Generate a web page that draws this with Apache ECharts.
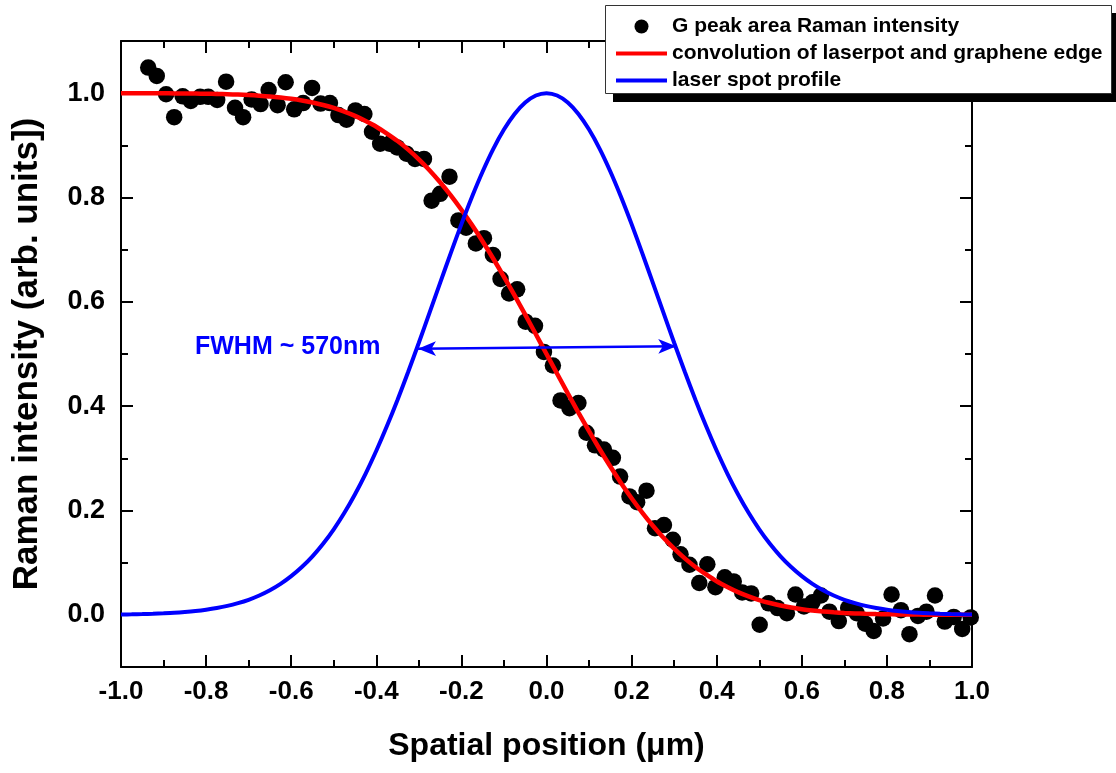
<!DOCTYPE html>
<html>
<head>
<meta charset="utf-8">
<script src="https://cdn.jsdelivr.net/npm/echarts@6/dist/echarts.min.js"></script>
<style>
html,body{margin:0;padding:0;background:#fff;}
#chart{width:1116px;height:773px;}
</style>
</head>
<body>
<div id="chart"></div>
<script>
// ---- data ----
var seriesNames = ['G peak area Raman intensity', 'convolution of laserpot and graphene edge', 'laser spot profile'];

var ramanPoints = [
  [-0.936,1.049],[-0.916,1.033],[-0.894,0.998],[-0.875,0.954],[-0.855,0.994],[-0.836,0.985],
  [-0.814,0.993],[-0.795,0.993],[-0.774,0.987],[-0.753,1.022],[-0.732,0.972],[-0.713,0.954],
  [-0.693,0.988],[-0.672,0.979],[-0.653,1.006],[-0.632,0.977],[-0.613,1.021],[-0.593,0.969],
  [-0.572,0.981],[-0.551,1.010],[-0.531,0.980],[-0.509,0.981],[-0.489,0.958],[-0.470,0.949],
  [-0.449,0.967],[-0.428,0.960],[-0.410,0.926],[-0.391,0.903],[-0.369,0.903],[-0.351,0.896],
  [-0.329,0.884],[-0.309,0.874],[-0.288,0.874],[-0.270,0.794],[-0.250,0.807],[-0.228,0.840],
  [-0.207,0.756],[-0.189,0.742],[-0.166,0.712],[-0.147,0.722],[-0.126,0.690],[-0.108,0.644],
  [-0.088,0.616],[-0.069,0.624],[-0.049,0.562],[-0.027,0.554],[-0.006,0.504],[0.015,0.478],
  [0.033,0.411],[0.054,0.396],[0.075,0.406],[0.094,0.349],[0.114,0.325],[0.135,0.317],
  [0.156,0.301],[0.173,0.265],[0.195,0.227],[0.213,0.216],[0.235,0.238],[0.255,0.166],
  [0.276,0.172],[0.297,0.144],[0.315,0.116],[0.336,0.096],[0.359,0.061],[0.378,0.097],
  [0.397,0.053],[0.419,0.072],[0.440,0.064],[0.460,0.043],[0.481,0.041],[0.501,-0.019],
  [0.522,0.022],[0.543,0.013],[0.565,0.003],[0.585,0.039],[0.605,0.016],[0.625,0.024],
  [0.645,0.037],[0.665,0.006],[0.687,-0.012],[0.709,0.013],[0.729,0.003],[0.749,-0.017],
  [0.769,-0.031],[0.791,-0.007],[0.811,0.039],[0.833,0.009],[0.853,-0.037],[0.873,-0.002],
  [0.893,0.006],[0.913,0.037],[0.936,-0.013],[0.957,-0.004],[0.977,-0.027],[0.997,-0.005]
];

var curveX = [
  -1.000,-0.975,-0.950,-0.925,-0.900,-0.875,-0.850,-0.825,-0.800,-0.775,
  -0.750,-0.725,-0.700,-0.675,-0.650,-0.625,-0.600,-0.575,-0.550,-0.525,
  -0.500,-0.475,-0.450,-0.425,-0.400,-0.375,-0.350,-0.325,-0.300,-0.275,
  -0.250,-0.225,-0.200,-0.175,-0.150,-0.125,-0.100,-0.075,-0.050,-0.025,
   0.000,
   0.025, 0.050, 0.075, 0.100, 0.125, 0.150, 0.175, 0.200, 0.225, 0.250,
   0.275, 0.300, 0.325, 0.350, 0.375, 0.400, 0.425, 0.450, 0.475, 0.500,
   0.525, 0.550, 0.575, 0.600, 0.625, 0.650, 0.675, 0.700, 0.725, 0.750,
   0.775, 0.800, 0.825, 0.850, 0.875, 0.900, 0.925, 0.950, 0.975, 1.000
];

var convolutionY = [
  1.0000,0.9999,0.9999,0.9998,0.9997,0.9996,0.9994,0.9992,0.9989,0.9985,
  0.9980,0.9973,0.9964,0.9952,0.9937,0.9917,0.9892,0.9861,0.9822,0.9774,
  0.9717,0.9646,0.9564,0.9466,0.9357,0.9225,0.9082,0.8918,0.8732,0.8524,
  0.8292,0.8039,0.7764,0.7471,0.7157,0.6826,0.6480,0.6122,0.5754,0.5378,
  0.5000,
  0.4622,0.4246,0.3878,0.3520,0.3174,0.2843,0.2529,0.2236,0.1961,0.1708,
  0.1476,0.1268,0.1082,0.0918,0.0775,0.0643,0.0534,0.0436,0.0354,0.0283,
  0.0226,0.0178,0.0139,0.0108,0.0083,0.0063,0.0048,0.0036,0.0027,0.0020,
  0.0015,0.0011,0.0008,0.0006,0.0004,0.0003,0.0002,0.0001,0.0001,0.0000
];

var laserSpotY = [
  0.0007,0.0010,0.0015,0.0021,0.0029,0.0039,0.0054,0.0073,0.0098,0.0130,
  0.0171,0.0224,0.0289,0.0371,0.0471,0.0593,0.0741,0.0916,0.1122,0.1363,
  0.1640,0.1957,0.2313,0.2709,0.3145,0.3618,0.4124,0.4659,0.5216,0.5788,
  0.6364,0.6934,0.7489,0.8014,0.8498,0.8932,0.9302,0.9601,0.9821,0.9955,
  1.0000,
  0.9955,0.9821,0.9601,0.9302,0.8932,0.8498,0.8014,0.7489,0.6934,0.6364,
  0.5788,0.5216,0.4659,0.4124,0.3618,0.3145,0.2709,0.2313,0.1957,0.1640,
  0.1363,0.1122,0.0916,0.0741,0.0593,0.0471,0.0371,0.0289,0.0224,0.0171,
  0.0130,0.0098,0.0073,0.0054,0.0039,0.0029,0.0021,0.0015,0.0010,0.0007
];

var fwhmArrow = [[-0.302,0.510],[0.305,0.515]];
var fwhmText = 'FWHM ~ 570nm';

var xRange = [-1.0, 1.0];
var yRange = [-0.1, 1.1];
var yMajorTicks = [0.0,0.2,0.4,0.6,0.8,1.0];
var yMinorTicks = [-0.1,0.1,0.3,0.5,0.7,0.9,1.1];
var xTitle = 'Spatial position (\u03bcm)';
var yTitle = 'Raman intensity (arb. units])';

// ---- build chart ----
function pairs(xs, ys){ return xs.map(function(x,i){ return [x, ys[i]]; }); }

var FONT = '"Liberation Sans", Arial, sans-serif';
var AXC = '#000';

function xAxisDef(pos, labels){
  return {
    type:'value', position:pos, min:xRange[0], max:xRange[1], interval:0.2,
    name: labels ? xTitle : '', nameLocation:'middle', nameGap:63,
    nameTextStyle:{fontFamily:FONT, fontWeight:'bold', fontSize:32, color:'#000'},
    axisLine:{show:true, onZero:false, lineStyle:{color:AXC, width:2}},
    axisTick:{show:true, inside:true, length:12, lineStyle:{color:AXC, width:2}},
    minorTick:{show:true, splitNumber:2, length:7, lineStyle:{color:AXC, width:2}},
    splitLine:{show:false}, minorSplitLine:{show:false},
    axisLabel:{show:labels, margin:12, fontFamily:FONT, fontWeight:'bold', fontSize:26, color:'#000',
      formatter:function(v){ return v.toFixed(1); }}
  };
}
function yAxisDef(pos, ticks, len, labels, line){
  return {
    type:'value', position:pos, min:yRange[0], max:yRange[1],
    name: labels ? yTitle : '', nameLocation:'middle', nameGap:76, nameRotate:90,
    nameTextStyle:{fontFamily:FONT, fontWeight:'bold', fontSize:35, color:'#000'},
    axisLine:{show:line, onZero:false, lineStyle:{color:AXC, width:2}},
    axisTick:{show:true, inside:true, length:len, customValues:ticks, lineStyle:{color:AXC, width:2}},
    splitLine:{show:false},
    axisLabel:{show:labels, margin:16, customValues:ticks, fontFamily:FONT, fontWeight:'bold', fontSize:27, color:'#000',
      formatter:function(v){ return Number(v).toFixed(1); }}
  };
}

var chart = echarts.init(document.getElementById('chart'), null, {renderer:'canvas'});
var option = {
  animation:false,
  backgroundColor:'#fff',
  grid:{left:121, right:144, top:41, bottom:106, containLabel:false},
  xAxis:[ xAxisDef('bottom', true), xAxisDef('top', false) ],
  yAxis:[
    yAxisDef('left', yMajorTicks, 12, true, true),
    yAxisDef('left', yMinorTicks, 7, false, false),
    yAxisDef('right', yMajorTicks, 12, false, true),
    yAxisDef('right', yMinorTicks, 7, false, false)
  ],
  legend:{
    z:60, orient:'vertical', left:611, top:11, itemWidth:51, itemHeight:14, itemGap:6,
    textStyle:{fontFamily:FONT, fontWeight:'bold', fontSize:21, color:'#000'},
    data:[
      {name:seriesNames[0], icon:'circle'},
      {name:seriesNames[1], icon:'path://M0,0 L51,0 L51,4 L0,4 Z'},
      {name:seriesNames[2], icon:'path://M0,0 L51,0 L51,4 L0,4 Z'}
    ]
  },
  graphic:[
    {type:'rect', z:50, shape:{x:613, y:13, width:510, height:89}, style:{fill:'#000'}},
    {type:'rect', z:51, shape:{x:605.5, y:5.5, width:506, height:88}, style:{fill:'#fff', stroke:'#333', lineWidth:1}},
    {type:'text', z:40, left:195, top:335, style:{text:fwhmText, fill:'#0000ff', font:'bold 25px "Liberation Sans", Arial, sans-serif'}}
  ],
  series:[
    {
      name:seriesNames[0], type:'scatter', data:ramanPoints, symbol:'circle', symbolSize:16.5,
      itemStyle:{color:'#000', opacity:1}, z:3, clip:false
    },
    {
      name:seriesNames[1], type:'line', data:pairs(curveX, convolutionY), smooth:0.3, symbol:'none', showSymbol:false,
      lineStyle:{color:'#ff0000', width:4.5}, itemStyle:{color:'#ff0000'}, z:4
    },
    {
      name:seriesNames[2], type:'line', data:pairs(curveX, laserSpotY), smooth:0.3, symbol:'none', showSymbol:false,
      lineStyle:{color:'#0000ff', width:4}, itemStyle:{color:'#0000ff'}, z:4,
      markLine:{
        silent:true, symbol:['arrow','arrow'], symbolSize:[11,18],
        label:{show:false},
        lineStyle:{color:'#0000ff', width:2.5, type:'solid'},
        emphasis:{disabled:true},
        data:[[{coord:fwhmArrow[0]},{coord:fwhmArrow[1]}]]
      }
    }
  ]
};
chart.setOption(option);
</script>
</body>
</html>
